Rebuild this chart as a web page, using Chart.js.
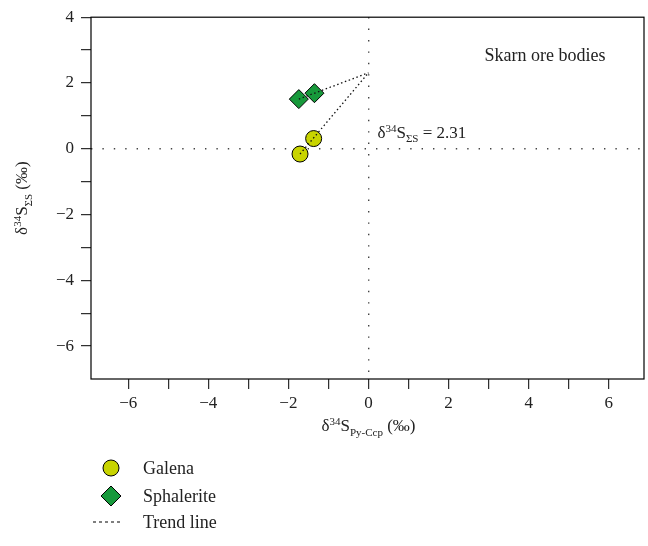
<!DOCTYPE html>
<html lang="en">
<head>
  <meta charset="UTF-8">
  <title>Skarn ore bodies</title>
  <script src="https://cdn.jsdelivr.net/npm/chart.js@4/dist/chart.umd.min.js"></script>
  <style>
    html, body { margin: 0; padding: 0; background: #fff; }
    #wrap { width: 648px; height: 546px; }
  </style>
</head>
<body>
<div id="wrap"><canvas id="sulfurChart" width="648" height="546"></canvas></div>
<script>
  // data
  const galenaX = [-1.71, -1.37];
  const galenaY = [-0.16, 0.31];
  const sphaleriteX = [-1.74, -1.35];
  const sphaleriteY = [1.51, 1.69];
  const sumS = 2.31;            // trend lines meet at (0, sumS)
  const xRange = [-6.93, 6.88];
  const yRange = [-7, 4];
  const xTicks = [-6, -5, -4, -3, -2, -1, 0, 1, 2, 3, 4, 5, 6];
  const yTicks = [-6, -5, -4, -3, -2, -1, 0, 1, 2, 3, 4];

  const FONT = '"Liberation Serif", "DejaVu Serif", serif';
  const galenaColor = '#c8d400';
  const sphaleriteColor = '#17993b';

  const pts = (xs, ys) => xs.map((x, i) => ({ x, y: ys[i] }));
  const galena = pts(galenaX, galenaY);
  const sphalerite = pts(sphaleriteX, sphaleriteY);
  const galenaTrend = [galena[0], { x: 0, y: sumS }];
  const sphaleriteTrend = [sphalerite[0], { x: 0, y: sumS }];

  const fmt = v => (v < 0 ? '\u2212' + Math.abs(v) : String(v));

  // text with super/subscripts, parts: [text, size, dy]
  function richText(ctx, parts, x, y, align) {
    let w = 0;
    parts.forEach(p => { ctx.font = p[1] + 'px ' + FONT; w += ctx.measureText(p[0]).width; });
    let cx = align === 'center' ? x - w / 2 : x;
    ctx.textAlign = 'left';
    ctx.textBaseline = 'alphabetic';
    parts.forEach(p => {
      ctx.font = p[1] + 'px ' + FONT;
      ctx.fillText(p[0], cx, y + (p[2] || 0));
      cx += ctx.measureText(p[0]).width;
    });
  }

  const decor = {
    id: 'decor',
    afterDraw(chart) {
      const { ctx, chartArea: a, scales } = chart;
      ctx.save();
      // frame
      ctx.strokeStyle = '#000';
      ctx.lineWidth = 1.2;
      ctx.strokeRect(a.left, a.top, a.right - a.left, a.bottom - a.top);

      ctx.fillStyle = '#222';
      // axis titles
      richText(ctx, [['\u03b4', 17], ['34', 11, -6], ['S', 17], ['Py-Ccp', 11, 5], [' (\u2030)', 17]],
        scales.x.getPixelForValue(0), 431, 'center');
      ctx.save();
      ctx.translate(27, (a.top + a.bottom) / 2);
      ctx.rotate(-Math.PI / 2);
      richText(ctx, [['\u03b4', 17], ['34', 11, -6], ['S', 17], ['\u03a3S', 11, 5], [' (\u2030)', 17]], 0, 0, 'center');
      ctx.restore();

      // annotations
      richText(ctx, [['Skarn ore bodies', 18]], 545, 61, 'center');
      richText(ctx, [['\u03b4', 17], ['34', 11, -6], ['S', 17], ['\u03a3S', 11, 4], [' = ' + sumS.toFixed(2), 17]],
        scales.x.getPixelForValue(0) + 9, 138, 'left');

      // legend
      const ds = chart.data.datasets;
      const lx = 111;
      ctx.lineWidth = 1;
      ctx.strokeStyle = '#000';
      ctx.fillStyle = galenaColor;
      ctx.beginPath(); ctx.arc(lx, 468, 8, 0, Math.PI * 2); ctx.fill(); ctx.stroke();
      ctx.fillStyle = sphaleriteColor;
      ctx.beginPath();
      ctx.moveTo(lx, 486); ctx.lineTo(lx + 10, 496); ctx.lineTo(lx, 506); ctx.lineTo(lx - 10, 496);
      ctx.closePath(); ctx.fill(); ctx.stroke();
      ctx.setLineDash([3, 3]);
      ctx.beginPath(); ctx.moveTo(93, 522); ctx.lineTo(123, 522); ctx.stroke();
      ctx.setLineDash([]);
      ctx.fillStyle = '#222';
      richText(ctx, [[ds[0].label, 18]], 143, 474, 'left');
      richText(ctx, [[ds[1].label, 18]], 143, 502, 'left');
      richText(ctx, [['Trend line', 18]], 143, 528, 'left');
      ctx.restore();
    }
  };

  const gridOpts = {
    color: c => (c.tick && c.tick.value === 0 ? '#444' : 'rgba(0,0,0,0)'),
    lineWidth: 1.4,
    tickColor: '#000',
    tickWidth: 1,
    tickLength: 10,
    tickBorderDash: [],
    drawTicks: true
  };
  const borderOpts = { display: false, dash: [1.4, 10] };

  new Chart(document.getElementById('sulfurChart'), {
    type: 'scatter',
    data: {
      datasets: [
        { label: 'Galena', data: galena, pointStyle: 'circle', pointRadius: 8, pointHoverRadius: 8,
          backgroundColor: galenaColor, borderColor: '#000', borderWidth: 1, order: 1 },
        { label: 'Sphalerite', data: sphalerite, pointStyle: 'rectRot', pointRadius: 9.5, pointHoverRadius: 9.5,
          backgroundColor: sphaleriteColor, borderColor: '#000', borderWidth: 1, order: 1 },
        { label: 'Trend line', data: galenaTrend, showLine: true, pointRadius: 0, borderColor: '#111',
          borderWidth: 1.3, borderDash: [1.5, 2.6], order: 0 },
        { label: 'Trend line', data: sphaleriteTrend, showLine: true, pointRadius: 0, borderColor: '#111',
          borderWidth: 1.3, borderDash: [1.5, 2.6], order: 0 }
      ]
    },
    options: {
      responsive: false,
      animation: false,
      layout: { autoPadding: false, padding: { left: 0, top: 16, right: 4, bottom: 107 } },
      plugins: { legend: { display: false }, tooltip: { enabled: false } },
      scales: {
        x: {
          type: 'linear', min: xRange[0], max: xRange[1],
          ticks: { autoSkip: false, maxRotation: 0, padding: 4, color: '#222',
            font: { family: FONT, size: 17 }, callback: v => (v % 2 === 0 ? fmt(v) : '') },
          afterBuildTicks: s => { s.ticks = xTicks.map(v => ({ value: v })); },
          afterFit: s => { s.height = 60; s.paddingLeft = 0; s.paddingRight = 0; },
          grid: gridOpts,
          border: borderOpts
        },
        y: {
          type: 'linear', min: yRange[0], max: yRange[1],
          ticks: { autoSkip: false, padding: 7, color: '#222',
            font: { family: FONT, size: 17 }, callback: v => (v % 2 === 0 ? fmt(v) : '') },
          afterBuildTicks: s => { s.ticks = yTicks.map(v => ({ value: v })); },
          afterFit: s => { s.width = 91; },
          grid: gridOpts,
          border: borderOpts
        }
      }
    },
    plugins: [decor]
  });
</script>
</body>
</html>
